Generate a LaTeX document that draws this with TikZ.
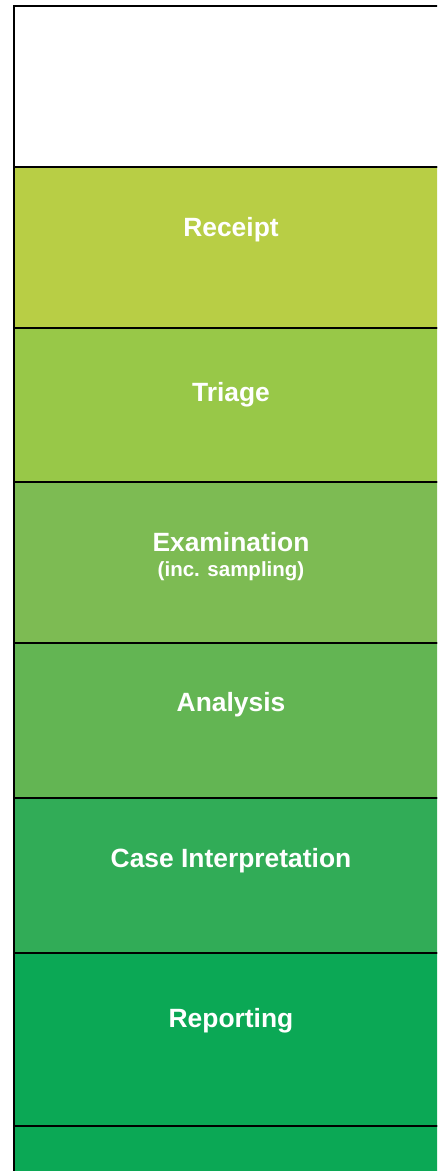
\documentclass[tikz,border=0pt]{standalone}
\usepackage{fontspec}
\setmainfont{Liberation Sans}
\definecolor{cReceipt}{HTML}{B8CE45}
\definecolor{cTriage}{HTML}{98C848}
\definecolor{cExam}{HTML}{7DBB53}
\definecolor{cAnalysis}{HTML}{63B553}
\definecolor{cCase}{HTML}{31AC57}
\definecolor{cReport}{HTML}{0BA855}
\tikzset{
  band/.style={draw=black, line width=1.8pt},
  title/.style={text=white, font=\fontsize{26.4}{30}\selectfont\bfseries, anchor=base, inner sep=0pt},
  subtitle/.style={text=white, font=\fontsize{20.5}{24}\selectfont\bfseries, anchor=base, inner sep=0pt}
}
\begin{document}
\begin{tikzpicture}[x=1pt,y=-1pt]
\useasboundingbox (0,0) rectangle (437,1171);
\clip (0,0) rectangle (437,1171);
\fill[white] (0,0) rectangle (437,1171);
\path[band, fill=white]     (14.2,5.7)    rectangle (460,166.7);
\path[band, fill=cReceipt]  (14.2,166.7)  rectangle (460,327.6);
\path[band, fill=cTriage]   (14.2,327.6)  rectangle (460,481.7);
\path[band, fill=cExam]     (14.2,481.7)  rectangle (460,642.7);
\path[band, fill=cAnalysis] (14.2,642.7)  rectangle (460,797.7);
\path[band, fill=cCase]     (14.2,797.7)  rectangle (460,952.7);
\path[band, fill=cReport]   (14.2,952.7)  rectangle (460,1125.7);
\path[band, fill=cReport]   (14.2,1125.7) rectangle (460,1200);
\node[title] (receipt)  at (231,236)   {Receipt};
\node[title] (triage)   at (231,401.7) {Triage};
\node[title] (exam)     at (231,551.2) {Examination};
\node[subtitle] (examsub) at (231,576.3) {(inc. sampling)};
\node[title] (analysis) at (231,711.7) {Analysis};
\node[title] (case)     at (231,867.3) {Case Interpretation};
\node[title] (report)   at (231,1027.3) {Reporting};
\end{tikzpicture}
\end{document}
